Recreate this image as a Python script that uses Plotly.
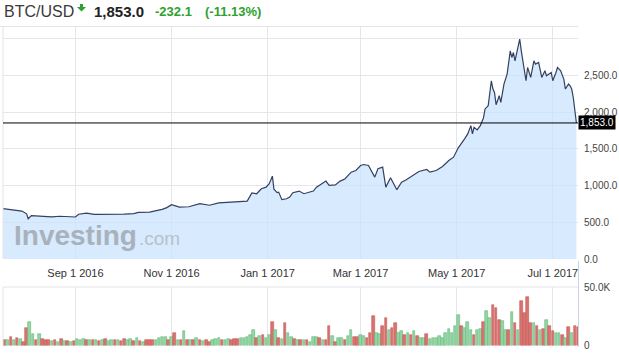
import plotly.graph_objects as go
import pandas as pd

W, H = 619, 356

# ---------------- data ----------------
price_dates = [
    "2016-07-17", "2016-07-23", "2016-07-29", "2016-08-01", "2016-08-02", "2016-08-04",
    "2016-08-08", "2016-08-12", "2016-08-17", "2016-08-22", "2016-08-27", "2016-09-01",
    "2016-09-03", "2016-09-08", "2016-09-13", "2016-09-19", "2016-09-26", "2016-10-02",
    "2016-10-08", "2016-10-11", "2016-10-18", "2016-10-22", "2016-10-26", "2016-10-29",
    "2016-11-01", "2016-11-06", "2016-11-12", "2016-11-19", "2016-11-25", "2016-12-01",
    "2016-12-09", "2016-12-14", "2016-12-19", "2016-12-22", "2016-12-25", "2016-12-28",
    "2016-12-31", "2017-01-02", "2017-01-04", "2017-01-05", "2017-01-07", "2017-01-08",
    "2017-01-10", "2017-01-13", "2017-01-15", "2017-01-17", "2017-01-21", "2017-01-24",
    "2017-01-28", "2017-01-30", "2017-02-01", "2017-02-04", "2017-02-07", "2017-02-09",
    "2017-02-13", "2017-02-16", "2017-02-19", "2017-02-23", "2017-02-26", "2017-03-01",
    "2017-03-03", "2017-03-06", "2017-03-08", "2017-03-10", "2017-03-12", "2017-03-15",
    "2017-03-17", "2017-03-20", "2017-03-24", "2017-03-27", "2017-03-30", "2017-04-03",
    "2017-04-07", "2017-04-12", "2017-04-14", "2017-04-18", "2017-04-22", "2017-04-26",
    "2017-04-29", "2017-05-02", "2017-05-04", "2017-05-06", "2017-05-08", "2017-05-10",
    "2017-05-11", "2017-05-12", "2017-05-14", "2017-05-16", "2017-05-18", "2017-05-19",
    "2017-05-21", "2017-05-23", "2017-05-24", "2017-05-25", "2017-05-26", "2017-05-28",
    "2017-05-29", "2017-05-31", "2017-06-02", "2017-06-04", "2017-06-05", "2017-06-06",
    "2017-06-07", "2017-06-08", "2017-06-10", "2017-06-11", "2017-06-12", "2017-06-14",
    "2017-06-15", "2017-06-17", "2017-06-19", "2017-06-20", "2017-06-22", "2017-06-24",
    "2017-06-26", "2017-06-27", "2017-06-30", "2017-07-01", "2017-07-03", "2017-07-04",
    "2017-07-06", "2017-07-07", "2017-07-08", "2017-07-09", "2017-07-11", "2017-07-12",
    "2017-07-13", "2017-07-14", "2017-07-15", "2017-07-16",
]
price_values = [
    686, 668, 653, 615, 548, 592,
    588, 585, 574, 582, 572, 572,
    610, 624, 608, 608, 605, 612,
    618, 635, 638, 655, 676, 700,
    740, 707, 712, 753, 732, 765,
    775, 780, 789, 900, 889, 957,
    979, 1025, 1128, 950, 905, 911,
    808, 820, 843, 903, 925, 889,
    920, 925, 979, 1016, 1061, 1002,
    1010, 1061, 1090, 1183, 1206, 1274,
    1287, 1274, 1183, 1115, 1229, 1251,
    979, 1106, 944, 1047, 1080, 1138,
    1192, 1219, 1183, 1206, 1260, 1342,
    1387, 1514, 1570, 1636, 1704, 1817,
    1704, 1794, 1759, 1817, 1922, 2044,
    2089, 2428, 2315, 2269, 2102, 2224,
    2133, 2383, 2519, 2835, 2745, 2812,
    2700, 2790, 2994, 2835, 2700, 2428,
    2609, 2473, 2700, 2655, 2677, 2473,
    2564, 2496, 2541, 2428, 2541, 2609,
    2564, 2519, 2451, 2315, 2383, 2360,
    2315, 2200, 2000, 1853,
]

# volume (thousands), one bar per two days starting 2016-07-18
vol_k = [
    4.3, 4.3, 7.1, 4.3, 6.3, 5.4, 3.4, 14.9, 20.0, 10.0,
    4.9, 10.0, 5.4, 4.3, 4.3, 4.0, 4.3, 3.4, 5.4, 3.7,
    4.0, 3.4, 4.0, 5.4, 4.9, 5.4, 4.3, 4.3, 4.3, 4.6,
    3.7, 4.3, 5.4, 4.0, 4.3, 4.3, 4.6, 3.7, 5.4, 4.9,
    5.4, 4.0, 6.3, 4.0, 3.1, 4.9, 4.9, 4.6, 4.3, 6.3,
    7.1, 7.1, 4.9, 7.1, 11.1, 4.9, 4.9, 12.6, 4.9, 4.3,
    4.9, 6.3, 4.3, 3.7, 4.3, 3.4, 4.9, 5.4, 6.3, 4.9,
    4.9, 5.4, 4.3, 5.4, 5.4, 6.3, 6.3, 7.1, 9.1, 13.4,
    6.3, 7.7, 8.6, 6.3, 9.1, 20.3, 13.4, 6.3, 5.4, 19.1,
    10.6, 7.1, 5.4, 4.9, 4.9, 4.3, 4.3, 3.4, 7.1, 7.1,
    6.3, 4.9, 4.9, 16.3, 7.7, 2.6, 6.3, 6.3, 4.9, 7.7,
    13.4, 6.9, 7.1, 8.6, 7.7, 6.3, 10.6, 25.4, 10.6, 9.7,
    16.3, 23.4, 13.4, 14.9, 19.1, 11.1, 12.0, 8.6, 11.1, 9.1,
    12.0, 8.3, 6.3, 6.3, 10.0, 5.4, 6.3, 6.3, 7.7, 6.3,
    10.6, 14.0, 10.6, 16.9, 26.3, 16.3, 14.9, 19.7, 13.4, 9.1,
    13.4, 14.0, 19.7, 29.1, 23.4, 34.9, 32.0, 22.0, 20.6, 13.4,
    13.4, 28.6, 19.1, 13.4, 37.7, 27.7, 41.4, 19.1, 19.1, 16.3,
    13.4, 14.0, 22.0, 16.3, 12.0, 10.6, 11.1, 9.1, 6.3, 15.4,
    10.6, 16.9, 16.0,
]
vol_dir = (
    "rgrgrgrrgg" "rgrrrgrgrg" "rgrgggrgrg" "rgrggrgrrg" "grgrgrrrgg"
    "ggrgrgrgrg" "rgrgrrgggr" "ggrrrggggg" "rgrggrgrgr" "ggrgrgrggg"
    "rgrrgrggrg" "grrggrrrgg" "rrgrrggrgr" "grggrggggg" "gggggrgggr"
    "ggrggrrrgg" "rgrgrrrrgr" "grgrrggrgr" "grr"
)

tick_dates = ["2016-09-01", "2016-11-01", "2017-01-01", "2017-03-01", "2017-05-01", "2017-07-01"]
tick_labels = ["Sep 1 2016", "Nov 1 2016", "Jan 1 2017", "Mar 1 2017", "May 1 2017", "Jul 1 2017"]
price_ticks = [0, 500, 1000, 1500, 2000, 2500, 3000]
price_tick_labels = ["0.0", "500.0", "1,000.0", "1,500.0", "2,000.0", "2,500.0", ""]
vol_ticks = [0, 50000]
vol_tick_labels = ["0", "50.0K"]

symbol = "BTC/USD"
last_price = "1,853.0"
last_price_value = 1853.0
change = "-232.1"
change_pct = "(-11.13%)"

# ---------------- helpers ----------------
FONT = "Liberation Sans, Arial, sans-serif"
def px(x):
    return x / W
def py(y):
    return 1 - y / H

X0, X1 = 3, 578
P_TOP, P_BOT = 27, 259
V_TOP, V_BOT = 287, 345.5

vol_dates = pd.date_range("2016-07-18", periods=len(vol_k), freq="2D")
vol_vals = [v * 1000 for v in vol_k]
GREEN_F, GREEN_L = "#95d4a4", "#62ba7d"
RED_F, RED_L = "#d9736f", "#c65955"
vol_fill = [GREEN_F if d == "g" else RED_F for d in vol_dir]
vol_line = [GREEN_L if d == "g" else RED_L for d in vol_dir]

fig = go.Figure()
fig.add_trace(go.Scatter(
    x=price_dates, y=price_values, mode="lines",
    line=dict(color="#33405f", width=1.2),
    fill="tozeroy", fillcolor="rgba(199,225,252,0.7)",
    xaxis="x", yaxis="y", hoverinfo="skip",
))
fig.add_trace(go.Bar(
    x=vol_dates, y=vol_vals,
    width=2 * 86400000 * 0.82,
    marker=dict(color=vol_fill, line=dict(color=vol_line, width=0.6)),
    xaxis="x2", yaxis="y2", hoverinfo="skip",
))

GRID = "#e5e6eb"
xdom = [px(X0), px(X1)]
fig.update_layout(
    template="none",
    width=W, height=H, autosize=False,
    margin=dict(l=0, r=0, t=0, b=0, pad=0, autoexpand=False),
    paper_bgcolor="white", plot_bgcolor="white",
    showlegend=False,
    bargap=0,
    font=dict(family=FONT, color="#333333"),
    xaxis=dict(
        type="date", domain=xdom, anchor="y", automargin=False,
        range=["2016-07-17", "2017-07-17"],
        tickvals=tick_dates, ticktext=tick_labels,
        tickfont=dict(size=11, color="#333333", family=FONT),
        ticks="outside", ticklen=4, tickcolor="rgba(0,0,0,0)",
        showgrid=True, gridcolor=GRID, gridwidth=1,
        zeroline=False, showline=False,
    ),
    yaxis=dict(
        domain=[py(P_BOT), py(P_TOP)], anchor="x", side="right", automargin=False,
        range=[0, 3160],
        tickvals=price_ticks, ticktext=price_tick_labels,
        tickfont=dict(size=10, color="#444444", family=FONT),
        ticks="", ticklabelstandoff=5,
        showgrid=True, gridcolor=GRID, gridwidth=1,
        zeroline=False, showline=False,
    ),
    xaxis2=dict(
        type="date", domain=xdom, anchor="y2", matches="x", automargin=False,
        tickvals=tick_dates, showticklabels=False, ticks="",
        showgrid=True, gridcolor=GRID, gridwidth=1,
        zeroline=False, showline=False,
    ),
    yaxis2=dict(
        domain=[py(V_BOT), py(V_TOP)], anchor="x2", side="right", automargin=False,
        range=[0, 50000],
        tickvals=vol_ticks, ticktext=vol_tick_labels,
        tickfont=dict(size=10, color="#444444", family=FONT),
        ticks="", ticklabelstandoff=5,
        showgrid=False, zeroline=False, showline=False,
    ),
)

BORDER = "#e3e4e8"
shapes = [
    dict(type="line", xref="paper", yref="paper", x0=0, x1=px(X1), y0=py(26.5), y1=py(26.5),
         line=dict(color=BORDER, width=1)),
    dict(type="line", xref="paper", yref="paper", x0=px(X0), x1=px(X0), y0=py(P_TOP), y1=py(P_BOT),
         line=dict(color=BORDER, width=1)),
    dict(type="line", xref="paper", yref="paper", x0=px(X0), x1=px(X0), y0=py(V_TOP), y1=py(V_BOT),
         line=dict(color=BORDER, width=1)),
    dict(type="line", xref="paper", yref="paper", x0=px(X0), x1=px(X1), y0=py(V_TOP), y1=py(V_TOP),
         line=dict(color=BORDER, width=1)),
    dict(type="line", xref="paper", yref="paper", x0=px(X1 + 0.5), x1=px(X1 + 0.5), y0=py(261), y1=py(347),
         line=dict(color="#c9d5e3", width=1)),
    dict(type="line", xref="paper", yref="y", x0=px(X0), x1=px(X1), y0=last_price_value, y1=last_price_value,
         line=dict(color="#000000", width=1)),
    dict(type="path", xref="paper", yref="paper",
         path="M %f %f L %f %f L %f %f L %f %f L %f %f L %f %f L %f %f Z" % (
             px(80), py(4), px(83), py(4), px(83), py(7), px(86), py(7),
             px(81.5), py(11.5), px(77), py(7), px(80), py(7)),
         fillcolor="#2ea12e", line=dict(width=0)),
]
fig.update_layout(shapes=shapes)

ann = [
    dict(text=symbol, x=px(2), y=py(11.5), xanchor="left", yanchor="middle",
         font=dict(size=16, color="#3a3a3a", family=FONT)),
    dict(text="<b>%s</b>" % last_price, x=px(92), y=py(11.5), xanchor="left", yanchor="middle",
         font=dict(size=15, color="#222222", family=FONT)),
    dict(text="<b>%s</b>" % change, x=px(153), y=py(12), xanchor="left", yanchor="middle",
         font=dict(size=13, color="#2ea12e", family=FONT)),
    dict(text="<b>%s</b>" % change_pct, x=px(203), y=py(12), xanchor="left", yanchor="middle",
         font=dict(size=13, color="#2ea12e", family=FONT)),
    dict(text="<b>Investing</b>", x=px(12), y=py(236), xanchor="left", yanchor="middle",
         font=dict(size=28, color="#a9b2bc", family=FONT)),
    dict(text=".com", x=px(137), y=py(238), xanchor="left", yanchor="middle",
         font=dict(size=19, color="#b7c1cb", family=FONT)),
    dict(text=last_price, x=px(X1), y=last_price_value, xref="paper", yref="y",
         xanchor="left", yanchor="middle", bgcolor="#000000", borderpad=1,
         font=dict(size=10, color="#ffffff", family=FONT)),
]
for a in ann:
    a.setdefault("xref", "paper")
    a.setdefault("yref", "paper")
    a["showarrow"] = False
fig.update_layout(annotations=ann)

fig.write_html(
    "out.html",
    config={"displayModeBar": False, "responsive": False},
    post_script="document.body.style.margin='0px';document.body.style.padding='0px';",
)
